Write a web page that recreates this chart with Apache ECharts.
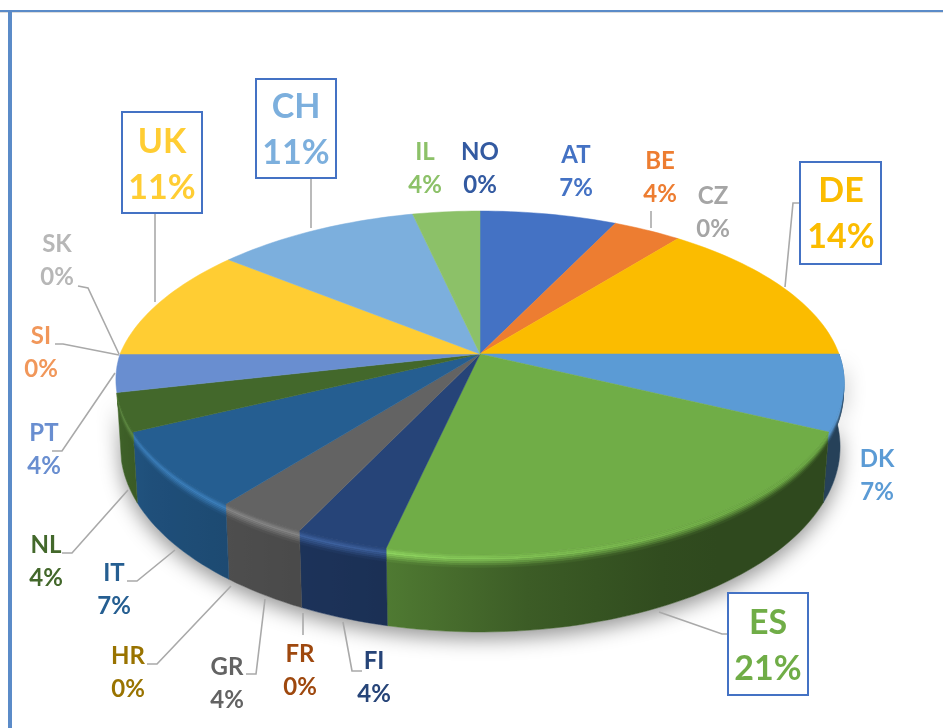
<!DOCTYPE html>
<html>
<head>
<meta charset="utf-8">
<style>html,body{margin:0;padding:0;background:#fff}#c{width:943px;height:728px}</style>
<script src="https://cdn.jsdelivr.net/npm/echarts@6/dist/echarts.min.js"></script>
</head>
<body>
<div id="c"></div>
<script>
// ---- data ----
const categories = ['AT','BE','CZ','DE','DK','ES','FI','FR','GR','HR','IT','NL','PT','SI','SK','UK','CH','IL','NO'];
const counts     = [  2,   1,   0,   4,   2,   6,   1,   0,   1,   0,   2,   1,   1,   0,   0,   3,   3,   1,   0 ];
const colors = ['#4472C4','#ED7D31','#A5A5A5','#FBBC00','#5B9BD5','#70AD47','#264478','#9E480E','#636363','#997300',
                '#255E91','#43682B','#698ED0','#F1975A','#B7B7B7','#FFCD33','#7CAFDD','#8CC168','#335AA1'];
const highlighted = ['DE','ES','UK','CH'];

// ---- label layout: centre of the two-line text block ----
const labelCentres = {AT:[576,172],BE:[660,178],CZ:[713,213],DE:[841,214],DK:[877,476],ES:[768,646],FI:[374,678],
  FR:[300,671],GR:[227,684],HR:[128,673],IT:[114,590],NL:[46,562],PT:[44,450],SI:[41,353],SK:[57,261],UK:[162,165],
  CH:[296,130],IL:[425,169],NO:[480,169]};
const boxes = {DE:[800,162,81,102],ES:[728,593,80,102],UK:[122,112,80,101],CH:[256,79,80,99]};
const leaders = {
  BE:[[651,211],[651,228]], DE:[[785,287],[793,203],[800,203]], UK:[[155,302],[155,213]], CH:[[311,228],[311,178]],
  SK:[[78,286],[88,288],[119,354]], SI:[[55,344],[63,344],[119,355]], PT:[[115,373],[62,451],[52,451]],
  NL:[[128,490],[72,553],[62,553]], IT:[[175,550],[137,581],[127,581]], HR:[[231,586],[157,664],[147,664]],
  GR:[[265,599],[256,674],[246,674]], FR:[[303,613],[303,635]], FI:[[343,622],[352,671],[362,671]],
  ES:[[659,612],[722,634],[728,634]]
};

// ---- projection of the tilted disc (t=0 top rim, t=1 bottom rim) ----
const lerp=(a,b,t)=>a+(b-a)*t;
function rim(deg,t){
  const r=deg*Math.PI/180,u=Math.sin(r),v=Math.cos(r);
  const kY=lerp(1/6,0.15,t),B=lerp(166.8,181,t),cy=lerp(354,419,t);
  let A,kX;
  if(u>=0){A=lerp(359,356,t);kX=kY;}
  else if(v<0){A=lerp(360,355.5,t);kX=0.15;}
  else{A=lerp(360,355.5,t)-8*v;kX=1/6;}
  return [480+A*u/(1+kX*v),cy-B*v/(1+kY*v)];
}
const arc=(a,b,t,step=1.5)=>{const n=Math.max(1,Math.ceil(Math.abs(b-a)/step)),p=[];for(let i=0;i<=n;i++)p.push(rim(a+(b-a)*i/n,t));return p;};

// ---- colour helpers ----
const hex=c=>[1,3,5].map(i=>parseInt(c.substr(i,2),16));
const css=a=>'rgb('+a.map(x=>Math.round(Math.max(0,Math.min(255,x)))).join(',')+')';
const mixA=(a,b,s)=>a.map((x,i)=>lerp(x,b[i],s));
const table=(tbl,x)=>{if(x<=tbl[0][0])return tbl[0][1];for(let i=1;i<tbl.length;i++)if(x<=tbl[i][0])return lerp(tbl[i-1][1],tbl[i][1],(x-tbl[i-1][0])/(tbl[i][0]-tbl[i-1][0]));return tbl[tbl.length-1][1];};
const wallShade=[[115,.42],[150,.42],[172,.52],[192,.70],[210,.76],[240,.85],[260,.97]];
const glow=[[140,0],[175,.5],[200,1],[260,1]];
const BEVEL=0.17, STEPS=7, WALL_FROM=90, WALL_TO=257;

function gradient(a,b,pts,fn){
  const xs=pts.map(p=>p[0]),lo=Math.min(...xs),hi=Math.max(...xs),stops=[];
  for(let i=0;i<=8;i++){const d=a+(b-a)*i/8,x=(rim(d,0.5)[0]-lo)/Math.max(1,hi-lo);stops.push({offset:Math.max(0,Math.min(1,x)),color:fn(d)});}
  stops.sort((p,q)=>p.offset-q.offset);
  return {type:'linear',x:0,y:0,x2:1,y2:0,colorStops:stops};
}

const total=counts.reduce((s,x)=>s+x,0);
const cum=[];counts.reduce((s,x,i)=>{cum[i]=s;return s+x;},0);

function renderItem(params,api){
  const i=api.value(0),val=api.value(1),name=categories[i],col=colors[i],rgb=hex(col),kids=[];
  const a=cum[i]/total*360,b=(cum[i]+val)/total*360;
  if(i===0){
    const sil=arc(WALL_FROM,WALL_TO,0).concat(arc(WALL_TO,WALL_FROM,1));
    kids.push({type:'polygon',z2:0,shape:{points:sil},style:{fill:'#fff',shadowBlur:20,shadowColor:'rgba(0,0,0,.42)',shadowOffsetY:7,shadowOffsetX:0}});
  }
  if(val>0){
    const w1=Math.max(a,WALL_FROM),w2=Math.min(b,WALL_TO);
    if(w2>w1){
      const pts=arc(w1,w2,0).concat(arc(w2,w1,1));
      const fill=gradient(w1,w2,pts,d=>css(rgb.map(x=>x*table(wallShade,d))));
      kids.push({type:'polygon',z2:2,shape:{points:pts},style:{fill,stroke:fill,lineWidth:.5}});
      for(let s=0;s<STEPS;s++){
        const t0=BEVEL*s/STEPS,t1=BEVEL*(s+1)/STEPS,m=(s+.5)/STEPS;
        const p=arc(w1,w2,t0).concat(arc(w2,w1,t1));
        const f=gradient(w1,w2,p,d=>{
          const wall=rgb.map(x=>x*table(wallShade,d)),g=table(glow,d),hl=rgb.map(x=>x*(1+.18*g)+16*g);
          return css(m<.35?mixA(rgb,hl,m/.35):mixA(hl,wall,(m-.35)/.65));
        });
        kids.push({type:'polygon',z2:3+s,shape:{points:p},style:{fill:f,stroke:f,lineWidth:.4}});
      }
    }
    const top=[[480,354]].concat(arc(a,b,0));
    kids.push({type:'polygon',z2:20,shape:{points:top},style:{fill:col,stroke:col,lineWidth:.5}});
  }
  if(leaders[name]) kids.push({type:'polyline',z2:30,shape:{points:leaders[name]},style:{fill:null,stroke:'#A9A9A9',lineWidth:1.6}});
  const big=highlighted.includes(name);
  if(boxes[name]){const q=boxes[name];kids.push({type:'rect',z2:31,shape:{x:q[0],y:q[1],width:q[2],height:q[3]},style:{fill:'#fff',stroke:'#4472C4',lineWidth:2}});}
  const c=labelCentres[name];
  kids.push({type:'text',z2:32,style:{text:name+'\n'+Math.round(val/total*100)+'%',x:c[0],y:c[1],align:'center',verticalAlign:'middle',
    fill:col,fontFamily:'Lato, Carlito, sans-serif',fontWeight:700,fontSize:big?34:24,lineHeight:big?46:33}});
  return {type:'group',children:kids};
}

const chart=echarts.init(document.getElementById('c'),null,{renderer:'canvas'});
chart.setOption({
  animation:false,
  backgroundColor:'#fff',
  graphic:[
    {type:'rect',z:-1,shape:{x:0,y:10,width:943,height:2},style:{fill:'#5B8BC8'}},
    {type:'rect',z:-1,shape:{x:0,y:12,width:943,height:1},style:{fill:'#DDDDDD'}},
    {type:'rect',z:-1,shape:{x:8,y:10,width:4,height:718},style:{fill:'#5B8BC8'}}
  ],
  series:[{type:'custom',coordinateSystem:'none',silent:true,renderItem,
    data:categories.map((c,i)=>({name:c,value:[i,counts[i]]}))}]
});
</script>
</body>
</html>
